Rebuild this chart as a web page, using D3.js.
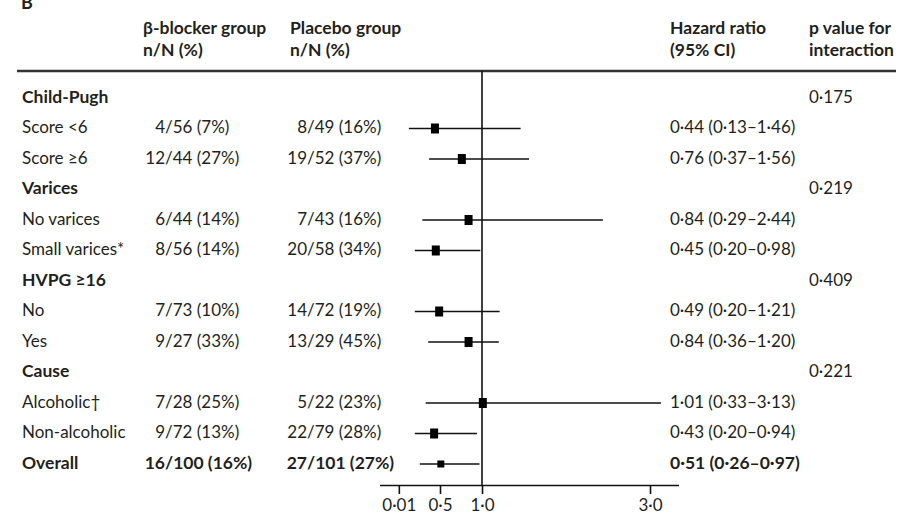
<!DOCTYPE html>
<html>
<head>
<meta charset="utf-8">
<script src="https://cdn.jsdelivr.net/npm/d3@7"></script>
<style>
  html, body { margin: 0; padding: 0; background: #fff; }
  svg { display: block; }
  text { font-family: Lato, "Open Sans", sans-serif; fill: #231f20; }
</style>
</head>
<body>
<svg id="chart" width="913" height="514"></svg>
<script>
// ---------------- DATA ----------------
const rowLabels = ["Child-Pugh", "Score <6", "Score \u22656", "Varices", "No varices", "Small varices*",
                   "HVPG \u226516", "No", "Yes", "Cause", "Alcoholic\u2020", "Non-alcoholic", "Overall"];
const groupRows = ["Child-Pugh", "Varices", "HVPG \u226516", "Cause"];
const pInteraction = ["0\u00b7175", "0\u00b7219", "0\u00b7409", "0\u00b7221"];

const subgroups   = ["Score <6", "Score \u22656", "No varices", "Small varices*", "No", "Yes", "Alcoholic\u2020", "Non-alcoholic", "Overall"];
const betaEvents  = [4, 12, 6, 8, 7, 9, 7, 9, 16];
const betaTotal   = [56, 44, 44, 56, 73, 27, 28, 72, 100];
const betaPct     = [7, 27, 14, 14, 10, 33, 25, 13, 16];
const placEvents  = [8, 19, 7, 20, 14, 13, 5, 22, 27];
const placTotal   = [49, 52, 43, 58, 72, 29, 22, 79, 101];
const placPct     = [16, 37, 16, 34, 19, 45, 23, 28, 27];
const hr          = [0.44, 0.76, 0.84, 0.45, 0.49, 0.84, 1.01, 0.43, 0.51];
const hrLow       = [0.13, 0.37, 0.29, 0.20, 0.20, 0.36, 0.33, 0.20, 0.26];
const hrHigh      = [1.46, 1.56, 2.44, 0.98, 1.21, 1.20, 3.13, 0.94, 0.97];

const axisTicks      = [0.01, 0.5, 1.0, 3.0];
const axisTickLabels = ["0\u00b701", "0\u00b75", "1\u00b70", "3\u00b70"];

const colHeaders = [
  { lines: ["\u03b2-blocker group", "n/N (%)"], col: "beta" },
  { lines: ["Placebo group", "n/N (%)"], col: "plac" },
  { lines: ["Hazard ratio", "(95% CI)"], col: "hr" },
  { lines: ["p value for", "interaction"], col: "p" }
];

// ---------------- LAYOUT ----------------
const svg = d3.select("#chart");
const FS = 17, FSB = 17.5;
const colX = { label: 22, betaSlash: 165, placSlash: 307, hr: 670, p: 809 };
const headerX = { beta: 143, plac: 290, hr: 670, p: 809 };

const y = d3.scalePoint().domain(rowLabels).range([97, 463]);
const x = d3.scaleLinear().domain([0, 3]).range([398, 650]);

const fmt2 = v => d3.format(".2f")(v).replace(".", "\u00b7");

// panel letter (cut off at top, as in the reference)
svg.append("text").attr("x", 21).attr("y", 9).attr("font-weight", "bold")
  .attr("font-size", 18).text("B");

// column headers
colHeaders.forEach(h => {
  h.lines.forEach((ln, i) => {
    svg.append("text").attr("x", headerX[h.col]).attr("y", 34 + i * 22)
      .attr("font-size", FSB).attr("font-weight", "bold").text(ln);
  });
});

// top rule
svg.append("line").attr("x1", 17).attr("x2", 896).attr("y1", 71).attr("y2", 71)
  .attr("stroke", "#333").attr("stroke-width", 2.5);

// row labels
rowLabels.forEach(lbl => {
  const bold = groupRows.includes(lbl) || lbl === "Overall";
  svg.append("text").attr("x", colX.label).attr("y", y(lbl) + 5.5)
    .attr("font-size", bold ? FSB : FS).attr("font-weight", bold ? "bold" : "normal").text(lbl);
});

// p values
groupRows.forEach((g, i) => {
  svg.append("text").attr("x", colX.p).attr("y", y(g) + 5.5)
    .attr("font-size", FS).text(pInteraction[i]);
});

// subgroup numbers
subgroups.forEach((s, i) => {
  const isBold = s === "Overall";
  const bold = isBold ? "bold" : "normal";
  const fs = isBold ? FSB : FS;
  const yy = y(s) + 5.5;
  [[colX.betaSlash, betaEvents, betaTotal, betaPct], [colX.placSlash, placEvents, placTotal, placPct]]
    .forEach(([sx, ev, tot, pct]) => {
      svg.append("text").attr("x", sx).attr("y", yy).attr("text-anchor", "end")
        .attr("font-size", fs).attr("font-weight", bold).text(ev[i]);
      svg.append("text").attr("x", sx).attr("y", yy)
        .attr("font-size", fs).attr("font-weight", bold).text("/" + tot[i] + " (" + pct[i] + "%)");
    });
  svg.append("text").attr("x", colX.hr).attr("y", yy)
    .attr("font-size", fs).attr("font-weight", bold)
    .text(fmt2(hr[i]) + " (" + fmt2(hrLow[i]) + "\u2013" + fmt2(hrHigh[i]) + ")");
});

// reference line at HR = 1
svg.append("line").attr("x1", x(1)).attr("x2", x(1)).attr("y1", 71).attr("y2", 485)
  .attr("stroke", "#111").attr("stroke-width", 1.6);

// CIs and squares
const g = svg.append("g");
subgroups.forEach((s, i) => {
  const yy = y(s) + 1;
  g.append("line").attr("x1", x(hrLow[i])).attr("x2", x(hrHigh[i]))
    .attr("y1", yy).attr("y2", yy).attr("stroke", "#111").attr("stroke-width", 1.6);
  const w = s === "Overall" ? 7 : 8, h = s === "Overall" ? 7 : 10;
  g.append("rect").attr("x", x(hr[i]) - w / 2).attr("y", yy - h / 2)
    .attr("width", w).attr("height", h).attr("fill", "#000");
});

// x axis
const axis = d3.axisBottom(x).tickValues(axisTicks)
  .tickFormat((d, i) => axisTickLabels[i]).tickSize(9).tickSizeOuter(0);
const ax = svg.append("g").attr("transform", "translate(0,485)").call(axis);
ax.select(".domain").attr("d", "M380,0.5H679").attr("stroke", "#111").attr("stroke-width", 1.6);
ax.selectAll(".tick line").attr("stroke", "#111").attr("stroke-width", 1.6);
ax.selectAll(".tick text").attr("font-size", FS).attr("font-family", "Lato, sans-serif")
  .attr("fill", "#231f20").attr("dy", "0.8em");
</script>
</body>
</html>
